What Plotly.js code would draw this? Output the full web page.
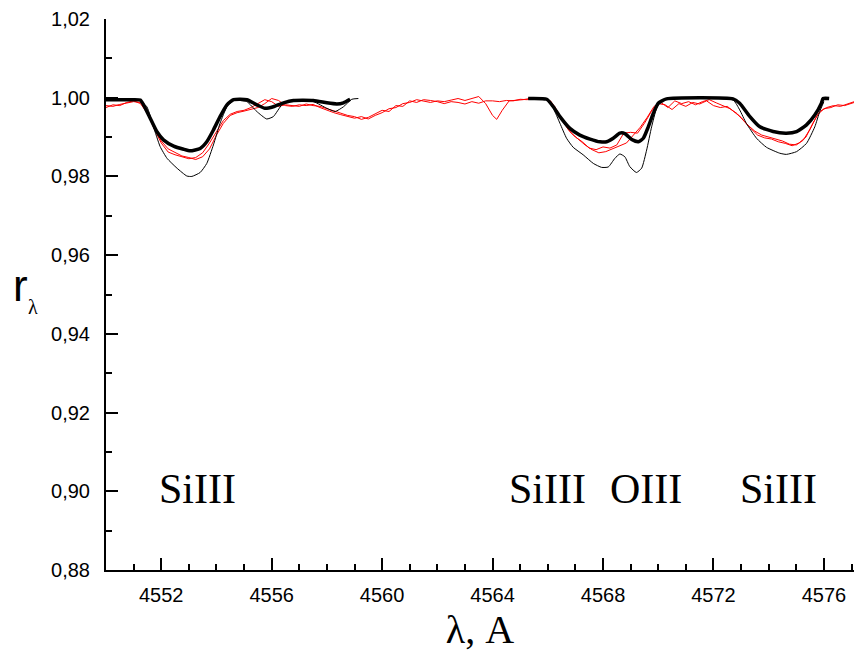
<!DOCTYPE html>
<html>
<head>
<meta charset="utf-8">
<script src="https://cdn.plot.ly/plotly-3.0.1.min.js"></script>
<style>html,body{margin:0;padding:0;background:#fff;}#chart{width:854px;height:658px;}</style>
</head>
<body>
<div id="chart"></div>
<script>
// Observed spectrum 1 (red)
const red1Wave = [4550.0,4550.25,4550.5,4550.75,4551.0,4551.25,4551.5,4551.75,4552.0,4552.25,4552.5,4552.75,4553.0,4553.25,4553.5,4553.75,4554.0,4554.25,4554.5,4554.75,4555.0,4555.25,4555.5,4555.75,4556.0,4556.25,4556.5,4556.75,4557.0,4557.25,4557.5,4557.75,4558.0,4558.25,4558.5,4558.75,4559.0,4559.25,4559.5,4559.75,4560.0,4560.25,4560.5,4560.75,4561.0,4561.25,4561.5,4561.75,4562.0,4562.25,4562.5,4562.75,4563.0,4563.25,4563.5,4563.75,4564.0,4564.15,4564.35,4564.6,4564.85,4565.1,4565.35,4565.6,4565.85,4566.1,4566.35,4566.6,4566.85,4567.1,4567.35,4567.6,4567.85,4568.1,4568.35,4568.6,4568.85,4569.1,4569.35,4569.6,4569.85,4570.1,4570.35,4570.6,4570.85,4571.1,4571.35,4571.6,4571.85,4572.1,4572.35,4572.6,4572.85,4573.1,4573.35,4573.6,4573.85,4574.1,4574.35,4574.6,4574.85,4575.1,4575.35,4575.6,4575.85,4576.1,4576.35,4576.6,4576.85,4577.1];
const red1Flux = [0.9980,0.9978,0.9983,0.9986,0.9990,0.9988,0.9965,0.9928,0.9890,0.9870,0.9860,0.9852,0.9848,0.9843,0.9850,0.9870,0.9905,0.9935,0.9955,0.9962,0.9966,0.9970,0.9975,0.9985,0.9998,0.9993,0.9980,0.9978,0.9982,0.9980,0.9983,0.9975,0.9968,0.9962,0.9957,0.9952,0.9948,0.9952,0.9946,0.9955,0.9962,0.9972,0.9975,0.9985,0.9988,0.9995,0.9992,0.9988,0.9992,0.9990,0.9994,0.9998,0.9993,0.9998,1.0003,0.9985,0.9955,0.9945,0.9968,0.9992,0.9993,0.9995,0.9998,1.0000,0.9998,0.9992,0.9965,0.9935,0.9910,0.9895,0.9880,0.9868,0.9860,0.9863,0.9870,0.9878,0.9885,0.9905,0.9925,0.9950,0.9978,0.9988,0.9975,0.9992,0.9985,0.9990,0.9982,0.9990,0.9995,0.9987,0.9980,0.9972,0.9960,0.9940,0.9922,0.9905,0.9898,0.9895,0.9888,0.9884,0.9878,0.9885,0.9900,0.9935,0.9965,0.9975,0.9980,0.9978,0.9985,0.9990];

// Observed spectrum 2 (red)
const red2Wave = [4550.0,4550.25,4550.5,4550.75,4551.0,4551.25,4551.5,4551.75,4552.0,4552.25,4552.5,4552.75,4553.0,4553.25,4553.5,4553.75,4554.0,4554.25,4554.5,4554.75,4555.0,4555.25,4555.5,4555.75,4556.0,4556.25,4556.5,4556.75,4557.0,4557.25,4557.5,4557.75,4558.0,4558.25,4558.5,4558.75,4559.0,4559.25,4559.5,4559.75,4560.0,4560.25,4560.5,4560.75,4561.0,4561.25,4561.5,4561.75,4562.0,4562.25,4562.5,4562.75,4563.0,4563.25,4563.5,4563.75,4564.0,4564.25,4564.5,4564.75,4565.0,4565.25,4565.5,4565.75,4566.0,4566.25,4566.5,4566.75,4567.0,4567.25,4567.5,4567.75,4568.0,4568.25,4568.5,4568.75,4569.0,4569.25,4569.5,4569.75,4570.0,4570.25,4570.5,4570.75,4571.0,4571.25,4571.5,4571.75,4572.0,4572.25,4572.5,4572.75,4573.0,4573.25,4573.5,4573.75,4574.0,4574.25,4574.5,4574.75,4575.0,4575.25,4575.5,4575.75,4576.0,4576.25,4576.5,4576.75,4577.1];
const red2Flux = [0.9975,0.9982,0.9980,0.9988,0.9992,0.9985,0.9960,0.9920,0.9885,0.9862,0.9855,0.9850,0.9845,0.9848,0.9860,0.9885,0.9915,0.9942,0.9958,0.9965,0.9968,0.9975,0.9985,0.9995,0.9990,0.9978,0.9982,0.9980,0.9978,0.9984,0.9980,0.9978,0.9972,0.9965,0.9960,0.9955,0.9952,0.9945,0.9950,0.9958,0.9968,0.9965,0.9980,0.9978,0.9992,0.9988,0.9995,0.9993,0.9990,0.9985,0.9990,0.9988,0.9984,0.9990,0.9986,0.9992,0.9992,0.9990,0.9993,0.9992,0.9996,0.9995,0.9998,1.0000,0.9995,0.9978,0.9945,0.9918,0.9900,0.9888,0.9872,0.9868,0.9875,0.9872,0.9880,0.9910,0.9912,0.9910,0.9935,0.9965,0.9985,0.9982,0.9970,0.9985,0.9978,0.9988,0.9984,0.9992,0.9980,0.9975,0.9978,0.9965,0.9950,0.9930,0.9915,0.9905,0.9900,0.9895,0.9890,0.9882,0.9880,0.9892,0.9920,0.9955,0.9972,0.9975,0.9982,0.9980,0.9988];

// Model 1 (thin black), two fitted windows separated by a gap
const thinWave = [4550.0,4551.2,4551.48,4551.72,4551.96,4552.21,4552.57,4552.93,4553.11,4553.41,4553.65,4553.89,4554.13,4554.38,4554.62,4555.10,4555.46,4555.82,4556.06,4556.37,4556.67,4557.51,4558.0,4558.30,4558.60,4558.90,4559.14,
  null,
  4565.29,4565.96,4566.20,4566.44,4566.68,4566.92,4567.28,4567.65,4567.95,4568.19,4568.43,4568.61,4568.79,4568.97,4569.21,4569.40,4569.58,4569.76,4569.94,4570.12,4572.71,4572.95,4573.19,4573.56,4573.92,4574.40,4574.64,4575.01,4575.37,4575.67,4575.85,4576.0];
const thinFlux = [0.9995,0.9994,0.9977,0.9926,0.9876,0.9846,0.9821,0.9801,0.9800,0.9810,0.9833,0.9880,0.9935,0.9977,0.9993,0.9990,0.9965,0.9946,0.9952,0.9982,0.9993,0.9990,0.9973,0.9965,0.9977,0.9996,0.9998,
  null,
  0.9998,0.9996,0.9973,0.9935,0.9897,0.9874,0.9855,0.9833,0.9823,0.9824,0.9846,0.9857,0.9850,0.9825,0.9810,0.9821,0.9867,0.9926,0.9973,0.9993,0.9994,0.9969,0.9935,0.9897,0.9874,0.9859,0.9856,0.9863,0.9884,0.9926,0.9965,0.9990];

// Model 2 (thick black)
const thickWave = [4550.0,4551.0,4551.24,4551.36,4551.60,4551.84,4552.08,4552.45,4552.81,4553.05,4553.41,4553.65,4553.89,4554.13,4554.38,4554.62,4555.10,4555.46,4555.76,4556.06,4556.43,4556.79,4557.51,4558.0,4558.36,4558.60,4558.84,
  null,
  4565.29,4565.96,4566.20,4566.44,4566.80,4567.16,4567.53,4567.89,4568.13,4568.37,4568.61,4568.79,4569.04,4569.28,4569.46,4569.64,4569.82,4570.00,4570.30,4572.71,4572.95,4573.32,4573.68,4574.16,4574.64,4575.01,4575.37,4575.67,4575.91,4575.97,4576.19];
const thickFlux = [0.9995,0.9995,0.9994,0.9982,0.9948,0.9914,0.9893,0.9877,0.9869,0.9865,0.9871,0.9888,0.9918,0.9952,0.9982,0.9995,0.9995,0.9982,0.9973,0.9977,0.9987,0.9993,0.9993,0.9987,0.9984,0.9987,0.9996,
  null,
  0.9998,0.9996,0.9977,0.9952,0.9922,0.9905,0.9895,0.9888,0.9888,0.9897,0.9910,0.9909,0.9894,0.9888,0.9897,0.9926,0.9960,0.9986,0.9997,0.9997,0.9986,0.9952,0.9926,0.9914,0.9910,0.9914,0.9931,0.9956,0.9986,0.9998,0.9998];

// Line identifications
const lineLabels = ["SiIII", "SiIII", "OIII", "SiIII"];
const lineLabelWave = [4553.33, 4566.0, 4569.55, 4574.35];
const lineLabelFlux = [0.9006, 0.9006, 0.9006, 0.9006];

const traces = [
  {x: red1Wave, y: red1Flux, mode: 'lines', line: {color: '#ff0000', width: 1}, hoverinfo: 'skip'},
  {x: red2Wave, y: red2Flux, mode: 'lines', line: {color: '#ff0000', width: 1}, hoverinfo: 'skip'},
  {x: thinWave, y: thinFlux, mode: 'lines', connectgaps: false, line: {color: '#000000', width: 1, shape: 'spline', smoothing: 0.5}, hoverinfo: 'skip'},
  {x: thickWave, y: thickFlux, mode: 'lines', connectgaps: false, line: {color: '#000000', width: 3.5, shape: 'spline', smoothing: 0.5}, hoverinfo: 'skip'}
];

const annotations = lineLabels.map((t, i) => ({
  x: lineLabelWave[i], y: lineLabelFlux[i], xref: 'x', yref: 'y', text: t, showarrow: false,
  xanchor: 'center', yanchor: 'middle',
  font: {family: 'Liberation Serif, Times New Roman, serif', size: 42, color: '#000'}
}));
annotations.push({
  x: -0.1143, y: 0.517, xref: 'paper', yref: 'paper', text: 'r', showarrow: false,
  xanchor: 'center', yanchor: 'middle',
  font: {family: 'Liberation Sans, Arial, sans-serif', size: 44, color: '#000'}
});
annotations.push({
  x: -0.0975, y: 0.478, xref: 'paper', yref: 'paper', text: 'λ', showarrow: false,
  xanchor: 'center', yanchor: 'middle',
  font: {family: 'Liberation Serif, Times New Roman, serif', size: 20, color: '#000'}
});

const tickFont = {family: 'Liberation Sans, Arial, sans-serif', size: 20, color: '#000'};

const layout = {
  width: 854, height: 658,
  margin: {l: 106, r: 0, t: 19, b: 88},
  paper_bgcolor: '#ffffff', plot_bgcolor: '#ffffff',
  separators: ',.',
  showlegend: false,
  xaxis: {
    range: [4550, 4577.09], tick0: 4552, dtick: 4, tickformat: 'd',
    showgrid: false, zeroline: false, showline: true, linecolor: '#000', linewidth: 2,
    ticks: 'inside', ticklen: 12, tickwidth: 2, tickcolor: '#000',
    minor: {dtick: 1, ticks: 'inside', ticklen: 6, tickwidth: 2, tickcolor: '#000', showgrid: false},
    tickfont: tickFont, ticklabelstandoff: 6,
    title: {text: 'λ, A', font: {family: 'Liberation Serif, Times New Roman, serif', size: 40, color: '#000'}, standoff: 10}
  },
  yaxis: {
    range: [0.88, 1.02], tick0: 0.88, dtick: 0.02, tickformat: '.2f',
    showgrid: false, zeroline: false, showline: true, linecolor: '#000', linewidth: 2,
    ticks: 'inside', ticklen: 12, tickwidth: 2, tickcolor: '#000',
    minor: {dtick: 0.01, ticks: 'inside', ticklen: 6, tickwidth: 2, tickcolor: '#000', showgrid: false},
    tickfont: tickFont, ticklabelstandoff: 10
  },
  annotations: annotations
};

Plotly.newPlot('chart', traces, layout, {displayModeBar: false, staticPlot: true});
</script>
</body>
</html>
